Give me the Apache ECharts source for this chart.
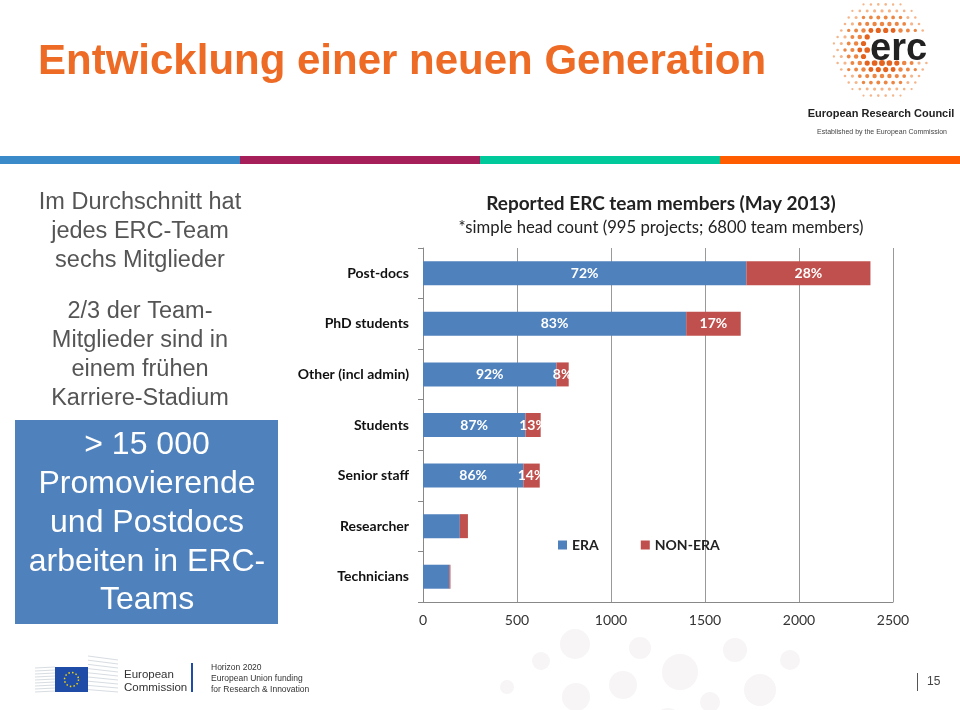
<!DOCTYPE html>
<html>
<head>
<meta charset="utf-8">
<script src="https://cdn.jsdelivr.net/npm/echarts@6/dist/echarts.min.js"></script>
<style>
html,body{margin:0;padding:0;background:#fff;}
#main{width:960px;height:710px;}
</style>
</head>
<body>
<div id="main"></div>
<script>
// ---- data ----
var categories = ['Post-docs', 'PhD students', 'Other (incl admin)', 'Students', 'Senior staff', 'Researcher', 'Technicians'];
var eraValues = [1720, 1400, 710, 545, 534, 196, 140];
var nonEraValues = [660, 290, 65, 81, 87, 43, 6];
var eraPctLabels = ['72%', '83%', '92%', '87%', '86%', '', ''];
var nonEraPctLabels = ['28%', '17%', '8%', '13%', '14%', '', ''];
var xTicks = [0, 500, 1000, 1500, 2000, 2500];

var chart = echarts.init(document.getElementById('main'), null, {renderer: 'canvas'});

var catFont = 'Lato, "Open Sans", sans-serif';
var slideFont = '"Liberation Sans", Arial, sans-serif';

// decorative ERC logo dots
var logoDots = [];
(function(){
  var cx = 882, cy = 50, R = 50, step = 7.4;
  for (var gx = -8; gx <= 8; gx++) {
    for (var gy = -8; gy <= 8; gy++) {
      var x = gx * step + (gy % 2 ? step / 2 : 0);
      var y = gy * step * 0.88;
      var d = Math.sqrt(x * x + y * y);
      if (d > R) continue;
      var t = d / R;
      var r = 3.6 * (1 - t * 0.7);
      var inside = (x > -14 && x < 50 && y > -16 && y < 13);
      if (inside) continue;
      logoDots.push({
        type: 'circle', silent: true,
        shape: {cx: cx + x, cy: cy + y, r: r},
        style: {fill: t < 0.5 ? '#E4631E' : (t < 0.78 ? '#EC8644' : '#F4B58A')}
      });
    }
  }
})();

var bgCircles = [[541,661,9],[575,644,15],[507,687,7],[576,697,14],[623,685,14],[640,648,11],[680,672,18],[668,722,14],[735,650,12],[760,690,16],[710,702,10],[790,660,10]].map(function(c){
  return {type:'circle', silent:true, z:-1, shape:{cx:c[0],cy:c[1],r:c[2]}, style:{fill:'#f7f5f5'}};
});

// EU building lines (decorative)
var buildingLines = [];
for (var i = 0; i < 9; i++) {
  buildingLines.push({type:'line', silent:true, shape:{x1:35, y1:668 + i*3, x2:55, y2:667 + i*3}, style:{stroke:'#d8dde2', lineWidth:1}});
  buildingLines.push({type:'line', silent:true, shape:{x1:88, y1:656 + i*4.2, x2:118, y2:660 + i*4}, style:{stroke:'#d8dde2', lineWidth:1}});
}

var graphics = [].concat(bgCircles, buildingLines, [
  // title
  {type:'text', left:38, top:41, style:{text:'Entwicklung einer neuen Generation', font:'bold 42px ' + slideFont, fill:'#EE6B26'}},
  // stripes
  {type:'rect', shape:{x:0,y:156,width:240,height:8}, style:{fill:'#3A89C9'}},
  {type:'rect', shape:{x:240,y:156,width:240,height:8}, style:{fill:'#A61F5B'}},
  {type:'rect', shape:{x:480,y:156,width:240,height:8}, style:{fill:'#00C99B'}},
  {type:'rect', shape:{x:720,y:156,width:240,height:8}, style:{fill:'#FF5C00'}},
  // logo text
  {type:'text', x:870, y:50, style:{text:'erc', font:'bold 38px ' + slideFont, fill:'#222', textAlign:'left', textVerticalAlign:'middle'}},
  {type:'text', x:881, y:114, style:{text:'European Research Council', font:'bold 11px ' + slideFont, fill:'#222', textAlign:'center', textVerticalAlign:'middle'}},
  {type:'text', x:882, y:132, style:{text:'Established by the European Commission', font:'7px ' + slideFont, fill:'#444', textAlign:'center', textVerticalAlign:'middle'}},
  // left text
  {type:'text', x:140, y:188, style:{text:'Im Durchschnitt hat\njedes ERC-Team\nsechs Mitglieder', font:'23.5px ' + slideFont, lineHeight:29, fill:'#555', textAlign:'center'}},
  {type:'text', x:140, y:297, style:{text:'2/3 der Team-\nMitglieder sind in\neinem frühen\nKarriere-Stadium', font:'23.5px ' + slideFont, lineHeight:29, fill:'#555', textAlign:'center'}},
  // blue box
  {type:'rect', shape:{x:15,y:420,width:263,height:204}, style:{fill:'#4F81BD'}},
  {type:'text', x:147, y:426, style:{text:'> 15 000\nPromovierende\nund Postdocs\narbeiten in ERC-\nTeams', font:'32px ' + slideFont, lineHeight:38.8, fill:'#fff', textAlign:'center'}},
  // chart title
  {type:'text', x:661, y:204, style:{text:'Reported ERC team members (May 2013)', font:'bold 19px ' + catFont, fill:'#222', textAlign:'center', textVerticalAlign:'middle'}},
  {type:'text', x:661, y:228, style:{text:'*simple head count (995 projects; 6800 team members)', font:'16.7px ' + catFont, fill:'#222', textAlign:'center', textVerticalAlign:'middle'}},
  // footer EU logo
  {type:'rect', shape:{x:55,y:667,width:33,height:25}, style:{fill:'#1F4CA6'}},
  {type:'circle', shape:{cx:71.5,cy:679.5,r:7}, style:{fill:'none', stroke:'#F5D30A', lineWidth:1.5, lineDash:[1.5,2.2]}},
  {type:'text', x:124, y:675, style:{text:'European', font:'11.5px ' + slideFont, fill:'#333', textVerticalAlign:'middle'}},
  {type:'text', x:124, y:688, style:{text:'Commission', font:'11.5px ' + slideFont, fill:'#333', textVerticalAlign:'middle'}},
  {type:'rect', shape:{x:191,y:663,width:2,height:29}, style:{fill:'#1F4CA6'}},
  {type:'text', x:211, y:662, style:{text:'Horizon 2020\nEuropean Union funding\nfor Research & Innovation', font:'8.5px ' + slideFont, lineHeight:11, fill:'#333'}},
  // page number
  {type:'rect', shape:{x:917,y:673,width:1,height:18}, style:{fill:'#555'}},
  {type:'text', x:927, y:682, style:{text:'15', font:'12px ' + slideFont, fill:'#444', textVerticalAlign:'middle'}}
], logoDots);

var option = {
  backgroundColor: '#fff',
  animation: false,
  graphic: graphics,
  color: ['#4F81BD', '#C0504D'],
  legend: {
    left: 553, top: 533,
    itemWidth: 9, itemHeight: 9, itemGap: 42,
    icon: 'rect',
    textStyle: {fontWeight: 'bold', fontSize: 14, fontFamily: catFont, color: '#222'},
    data: ['ERA', 'NON-ERA']
  },
  grid: {left: 423, right: 67, top: 248, height: 354, containLabel: false},
  xAxis: {
    type: 'value', min: 0, max: 2500, interval: 500,
    axisLine: {show: true, lineStyle: {color: '#888'}},
    axisTick: {show: false},
    splitLine: {show: true, lineStyle: {color: '#999', width: 1}},
    axisLabel: {
      margin: 11, color: '#333', fontSize: 14, fontFamily: catFont,
      formatter: function (v) { return xTicks.indexOf(v) >= 0 ? String(v) : ''; }
    }
  },
  yAxis: {
    type: 'category', inverse: true, data: categories,
    axisLine: {show: true, lineStyle: {color: '#888'}},
    axisTick: {show: true, length: 5, lineStyle: {color: '#888'}},
    axisLabel: {margin: 14, color: '#111', fontSize: 14, fontWeight: 'bold', fontFamily: catFont}
  },
  series: [
    {
      name: 'ERA', type: 'bar', stack: 'total', barWidth: 24, data: eraValues,
      label: {show: true, position: 'inside', color: '#fff', fontSize: 14, fontWeight: 'bold', fontFamily: catFont,
        formatter: function (p) { return eraPctLabels[p.dataIndex]; }}
    },
    {
      name: 'NON-ERA', type: 'bar', stack: 'total', barWidth: 24, data: nonEraValues,
      label: {show: true, position: 'inside', color: '#fff', fontSize: 14, fontWeight: 'bold', fontFamily: catFont,
        formatter: function (p) { return nonEraPctLabels[p.dataIndex]; }}
    }
  ]
};
chart.setOption(option);
</script>
</body>
</html>
